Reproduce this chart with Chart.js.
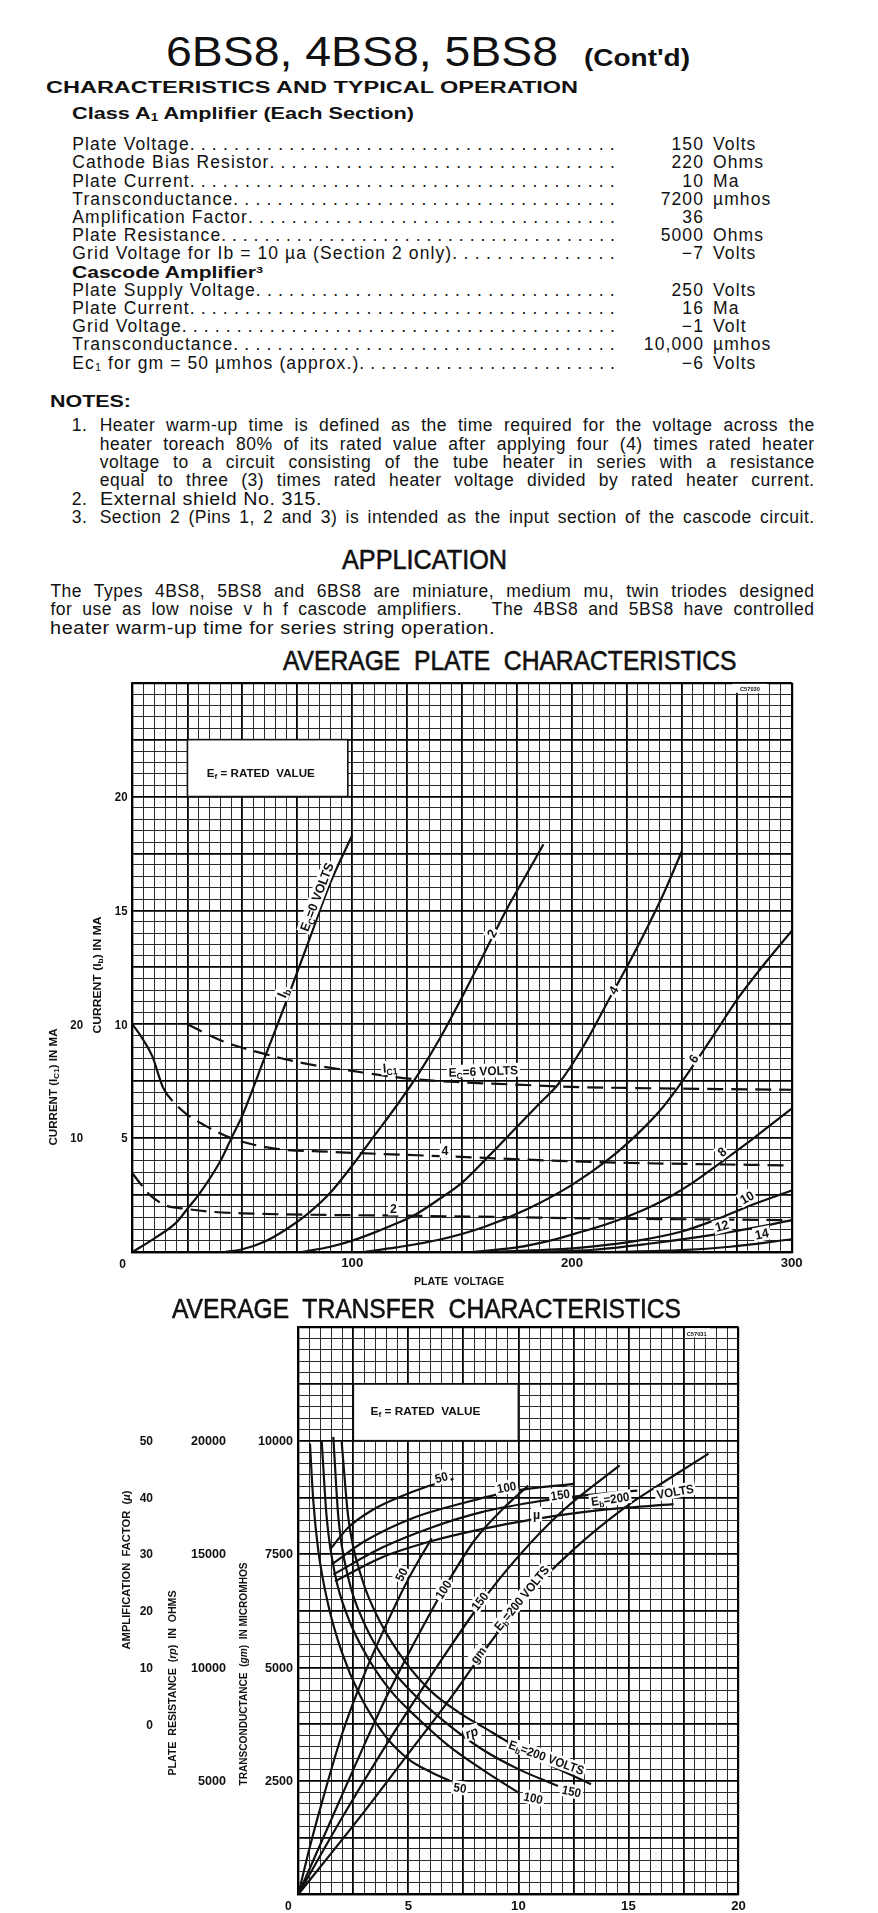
<!DOCTYPE html>
<html><head><meta charset="utf-8">
<script src="https://cdn.jsdelivr.net/npm/chart.js@4.4.1/dist/chart.umd.min.js"></script>
<style>
html,body{margin:0;padding:0;background:#fff;}
body{width:878px;height:1913px;position:relative;overflow:hidden;font-family:"Liberation Sans",Arial,sans-serif;color:#111;}
.t{position:absolute;white-space:nowrap;line-height:1;transform-origin:0 0;}
.t sub{font-size:0.62em;vertical-align:-0.18em;line-height:0;}
.t sup{font-size:0.6em;vertical-align:0.55em;line-height:0;}
.hd{-webkit-text-stroke:0.6px #111;}
canvas{position:absolute;left:0;}
</style></head><body>
<canvas id="plate" width="878" height="616" style="top:676px;width:878px;height:616px"></canvas>
<canvas id="transfer" width="878" height="591" style="top:1322px;width:878px;height:591px"></canvas>
<script>
// ---------- PLATE CHARACTERISTICS DATA (plate volts, plate mA) ----------
const ec0V=[0,10,20,25,30,40,45,50,60,70,80,90,100];
const ec0I=[0,0.6,1.3,1.9,2.5,4.0,5.0,6.0,8.5,11.0,13.6,16.2,18.3];
const ec2V=[42,50,60,70,80,90,100,110,120,130,140,150,160,170,180,187];
const ec2I=[0,0.12,0.45,1.0,1.7,2.6,3.8,5.1,6.4,7.8,9.4,11.2,13.1,15.0,16.7,17.9];
const ec4V=[77,90,100,110,120,128,140,150,162,175,185,194,205,218,226,234,242,250];
const ec4I=[0,0.23,0.5,0.85,1.25,1.6,2.35,3.05,4.2,5.5,6.5,7.4,9.0,11.3,12.7,14.2,15.8,17.6];
const ec6V=[105,120,140,160,180,200,217,230,240,248,256,265,276,288,300];
const ec6I=[0,0.2,0.55,1.1,1.9,2.95,4.1,5.2,6.2,7.2,8.3,9.6,11.2,12.7,14.1];
const ec8V=[155,175,190,203,215,223,235,245,255,268,280,290,300];
const ec8I=[0,0.2,0.5,0.85,1.2,1.47,1.95,2.45,3.05,3.95,4.8,5.55,6.3];
const ec10V=[160,190,210,230,250,265,280,300];
const ec10I=[0,0.1,0.25,0.5,0.9,1.4,2.0,2.7];
const ec12V=[185,210,234,264,285,300];
const ec12I=[0,0.1,0.35,0.75,1.1,1.4];
const ec14V=[215,250,272,300];
const ec14I=[0,0.08,0.23,0.56];
// grid current Ic1 (mA, left outer scale) for Ec = +2, +4, +6 volts
const ic2V=[0,4,8,15,24,35,50,90,120,211,300];
const ic2I=[6.9,5.9,5.0,4.1,3.8,3.55,3.4,3.25,3.2,2.95,2.8];
const ic4V=[0,5,9,14,20,24,35,45,64,90,143,211,300];
const ic4I=[20,18.6,17.2,14.4,12.9,12.2,10.9,10.0,9.1,8.8,8.4,7.9,7.6];
const ic6V=[25,40,60,80,100,127,150,175,200,250,300];
const ic6I=[20,18.6,17.4,16.5,15.9,15.2,14.9,14.7,14.5,14.35,14.25];
const plateXTicks=[100,200,300];
const plateYTicks=[5,10,15,20];
const plateY2Ticks=[10,20];

// ---------- TRANSFER CHARACTERISTICS DATA (plate mA) ----------
const gm50X=[0,0.5,1,2,3,4,5,6.06];
const gm50Y=[0,1000,1900,3550,4850,5950,6950,7850];
const gm100X=[0,1.5,3,4,5,6.6,8,9.3,10.45];
const gm100Y=[0,1650,3300,4350,5300,6720,7800,8500,9010];
const gm150X=[0,2,4,6,8.26,10,12,14.6];
const gm150Y=[0,1700,3300,4800,6400,7450,8450,9457];
const gm200X=[0,2.8,5,6.9,8.2,10.15,12.5,14.85,16.8,18.64];
const gm200Y=[0,1700,3100,4314,5200,6450,7600,8531,9150,9715];
const rp50X=[0.53,0.68,0.91,1.36,1.97,2.8,3.94,5.0,6.06,6.9];
const rp50Y=[19874,17360,15140,12770,10700,8775,6997,5963,5372,5000];
const rp100X=[1.06,1.29,1.67,2.27,3.18,4.24,5.45,6.82,8.33,10.0];
const rp100Y=[20024,16620,14100,12180,10400,8924,7740,6555,5520,4484];
const rp150X=[1.59,1.82,2.27,3.03,4.09,5.3,6.67,8.33,10.0,11.8];
const rp150Y=[20170,16620,13955,11880,10105,8773,7592,6407,5519,4778];
const rp200X=[1.97,2.27,2.88,3.79,4.85,6.06,7.27,8.79,10.6,13.3];
const rp200Y=[19950,16620,13955,11880,10256,8924,8036,7148,6109,4853];
const mu50X=[1.44,2.27,3.33,4.55,5.76,7.05];
const mu50Y=[30.8,34.7,37.7,40.0,41.8,43.3];
const mu100X=[1.52,3.03,5.3,7.58,9.85,12.5];
const mu100Y=[28.2,32.3,36.5,39.1,41.2,42.4];
const mu150X=[1.59,3.79,6.06,8.33,10.6,12.9,15.4];
const mu150Y=[26.4,31.1,34.7,37.4,39.1,40.3,41.2];
const mu200X=[1.67,3.79,6.06,8.33,10.8,13.6,17.05];
const mu200Y=[25.2,29.4,32.3,34.4,36.2,37.7,38.8];
const trXTicks=[5,10,15,20];
const gmTicks=[2500,5000,7500,10000];
const rpTicks=[5000,10000,15000,20000];
const muTicks=[0,10,20,30,40,50];

// ---------- PAGE TEXT ----------
const FONT='"Liberation Sans", Arial, sans-serif';
function placeText(html,x,base,fs,opt){
  opt=opt||{};
  const d=document.createElement('div');d.className='t'+(opt.cls?' '+opt.cls:'');
  d.style.left=x+'px';d.style.top=(base-0.8465*fs)+'px';d.style.fontSize=fs+'px';
  if(opt.bold)d.style.fontWeight='bold';
  if(opt.ls!=null)d.style.letterSpacing=opt.ls+'px';
  if(opt.right){d.style.left='auto';d.style.right=(878-x)+'px';d.style.textAlign='right';d.style.transformOrigin='100% 0';}
  d.innerHTML=html;document.body.appendChild(d);
  if(opt.w){
    const nat=d.getBoundingClientRect().width;
    const sp=(d.textContent.match(/[ \u00a0]/g)||[]).length;
    if(opt.just&&nat<opt.w&&sp){d.style.wordSpacing=((opt.w-nat)/sp)+'px';}
    else d.style.transform='scaleX('+(opt.w/nat)+')';
  }
  return d;
}
placeText('6BS8, 4BS8, 5BS8',166,66.7,43,{w:392});
placeText("(Cont'd)",584,66.7,23,{bold:1,w:106});
placeText('CHARACTERISTICS AND TYPICAL OPERATION',46,94,16,{bold:1,w:532});
placeText('Class A<sub>1</sub> Amplifier (Each Section)',71.7,119.3,16.5,{bold:1,w:342});

const specRows=[
 ['Plate Voltage','150','Volts'],
 ['Cathode Bias Resistor','220','Ohms'],
 ['Plate Current','10','Ma'],
 ['Transconductance','7200','µmhos'],
 ['Amplification Factor','36',''],
 ['Plate Resistance','5000','Ohms'],
 ['Grid Voltage for Ib = 10 µa (Section 2 only)','−7','Volts'],
 null,
 ['Plate Supply Voltage','250','Volts'],
 ['Plate Current','16','Ma'],
 ['Grid Voltage','−1','Volt'],
 ['Transconductance','10,000','µmhos'],
 ['Ec<sub>1</sub> for gm = 50 µmhos (approx.)','−6','Volts']
];
specRows.forEach((r,i)=>{
  const b=151+i*18.2;
  if(!r){placeText('Cascode Amplifier<sup>3</sup>',71.7,b,16.5,{bold:1,w:191});return;}
  const d=placeText(r[0],72.3,b,17.5,{ls:1.1});
  const end=72.3+d.getBoundingClientRect().width;
  const n=Math.max(1,Math.round((621-end)/10.95));const pitch=(621-end)/n;
  placeText('.'.repeat(n),end,b,17.5,{ls:pitch-4.865});
  placeText(r[1],704,b,17.5,{ls:1.1,right:1});
  if(r[2])placeText(r[2],713,b,17.5,{ls:1.1});
});

placeText('NOTES:',50.4,407.5,16,{bold:1,w:81});
const noteLines=[
 ['1.','Heater warm-up time is defined as the time required for the voltage across the',1],
 ['','heater toreach 80% of its rated value after applying four (4) times rated heater',1],
 ['','voltage to a circuit consisting of the tube heater in series with a resistance',1],
 ['','equal to three (3) times rated heater voltage divided by rated heater current.',1],
 ['2.','External shield No. 315.',0],
 ['3.','Section 2 (Pins 1, 2 and 3) is intended as the input section of the cascode circuit.',1]
];
noteLines.forEach((l,i)=>{
  const b=432+i*18.35;
  if(l[0])placeText(l[0],71.7,b,17.5,{ls:0.5});
  placeText(l[1],99.7,b,17.5,{ls:0.5,w:l[2]?715:222,just:l[2]});
});
placeText('APPLICATION',341.5,569.5,28,{w:165,cls:'hd'});
placeText('The Types 4BS8, 5BS8 and 6BS8 are miniature, medium mu, twin triodes designed',50.4,598,17.5,{ls:0.5,w:764,just:1});
placeText('for use as low noise v h f cascode amplifiers.&nbsp;&nbsp; The 4BS8 and 5BS8 have controlled',50.4,616.3,17.5,{ls:0.5,w:764,just:1});
placeText('heater warm-up time for series string operation.',50.4,634.6,17.5,{ls:0.5,w:445});
placeText('AVERAGE&nbsp; PLATE&nbsp; CHARACTERISTICS',282.8,671,28,{w:453.5,cls:'hd'});
placeText('AVERAGE&nbsp; TRANSFER&nbsp; CHARACTERISTICS',171.6,1318.5,28,{w:509,cls:'hd'});

// ---------- drawing helpers ----------
function drawRich(ctx,segs,cx,cy,o){
  o=o||{};const size=o.size||11;
  const parts=[];let w=0;
  for(const s of segs){const t=s[0],k=s[1]||0;const fs=k===1?size*0.7:size;
    const f=(k===2?'italic ':'')+(o.normal?'':'bold ')+fs+'px '+FONT;ctx.font=f;
    const m=ctx.measureText(t).width;parts.push({t,k,f,m});w+=m;}
  const sx=o.w?o.w/w:(o.sx||1);
  ctx.save();ctx.translate(cx,cy);ctx.rotate((o.angle||0)*Math.PI/180);ctx.scale(sx,1);
  let x0=o.align==='right'?-w:(o.align==='left'?0:-w/2);
  if(o.bg){ctx.fillStyle='#fff';ctx.fillRect(x0-2,-size*0.55,w+4,size*1.1);}
  ctx.fillStyle='#111';ctx.textAlign='left';ctx.textBaseline='alphabetic';
  let x=x0;for(const p of parts){ctx.font=p.f;ctx.fillText(p.t,x,size*0.36+(p.k===1?size*0.2:0));x+=p.m;}
  ctx.restore();
}
function mk(xs,ys){return xs.map((v,i)=>({x:v,y:ys[i]}));}
function solid(xs,ys,axis){return {data:mk(xs,ys),yAxisID:axis||'y',showLine:true,borderColor:'#111',borderWidth:2.2,pointRadius:0,cubicInterpolationMode:'monotone',fill:false};}
const DASH=[16,8];
function dashed(xs,ys,axis,solidUntil){const d=solid(xs,ys,axis);d.borderDash=DASH;
  if(solidUntil!=null)d.segment={borderDash:c=>c.p1.parsed.x<=solidUntil?[]:DASH};return d;}
function gridOpts(majorEvery,min,max){
  const near=(a,b)=>Math.abs(a-b)<1e-6;
  return {drawTicks:false,
    color:c=>{const v=c.tick.value;const r=v/majorEvery;return near(r,Math.round(r))?'#000':'#2b2b2b';},
    lineWidth:c=>{const v=c.tick.value;if(near(v,min)||near(v,max))return 2.2;const r=v/majorEvery;return near(r,Math.round(r))?1.8:1.0;}};
}
function boxAt(ctx,x,y,x0,x1,y0,y1){
  const L=x.getPixelForValue(x0),R=x.getPixelForValue(x1),T=y.getPixelForValue(y1),B=y.getPixelForValue(y0);
  ctx.save();ctx.fillStyle='#fff';ctx.fillRect(L,T,R-L,B-T);ctx.strokeStyle='#111';ctx.lineWidth=1.6;ctx.strokeRect(L,T,R-L,B-T);ctx.restore();
}

// ---------- PLATE CHART ----------
const PT=676;
const plateLabels=[
 {s:[['E'],['C',1],['=0 VOLTS']],x:83.8,y:15.6,a:-69,size:13,bg:1},
 {s:[['I'],['b',1]],x:68.3,y:11.4,a:-68,size:14,bg:1},
 {s:[['2']],x:163.5,y:14.0,a:-62,size:13,bg:1},
 {s:[['4']],x:218.8,y:11.5,a:-58,size:13,bg:1},
 {s:[['6']],x:255.3,y:8.5,a:-55,size:13,bg:1},
 {s:[['8']],x:268.2,y:4.4,a:-40,size:13,bg:1},
 {s:[['10']],x:279.6,y:2.4,a:-30,size:13,bg:1},
 {s:[['12']],x:268.2,y:1.15,a:-15,size:13,bg:1},
 {s:[['14']],x:286.4,y:0.8,a:-12,size:13,bg:1},
 {s:[['I'],['C1',1]],x:117.2,y:8.1,a:-5,size:13,bg:1},
 {s:[['E'],['C',1],['=6 VOLTS']],x:159.7,y:7.95,a:-2,size:12.5,bg:1},
 {s:[['4']],x:142.2,y:4.45,a:0,size:13,bg:1},
 {s:[['2']],x:118.7,y:1.92,a:0,size:13,bg:1}
];
const platePlugin={id:'plateDeco',
 beforeDatasetsDraw(chart){const {ctx,scales:{x,y}}=chart;
   boxAt(ctx,x,y,25,98,20,22.5);
   drawRich(ctx,[['E'],['f',1],[' = RATED  VALUE']],x.getPixelForValue(58.4),y.getPixelForValue(21.05),{size:11,w:108});
   ctx.save();ctx.fillStyle='#fff';ctx.fillRect(x.getPixelForValue(273),y.getPixelForValue(24.95),x.getPixelForValue(289)-x.getPixelForValue(273),9);ctx.restore();
   drawRich(ctx,[['C57030']],x.getPixelForValue(281),y.getPixelForValue(24.75),{size:6,w:20});
 },
 afterDatasetsDraw(chart){const {ctx,scales:{x,y,y2}}=chart;
   for(const l of plateLabels)drawRich(ctx,l.s,x.getPixelForValue(l.x),y.getPixelForValue(l.y),{size:l.size,angle:l.a,bg:l.bg,sx:0.95});
   const L=x.getPixelForValue(0);
   for(const v of plateXTicks)drawRich(ctx,[[String(v)]],x.getPixelForValue(v),1263-PT,{size:12,sx:1.1});
   drawRich(ctx,[['0']],L-10,1264-PT,{size:12});
   for(const v of plateYTicks)drawRich(ctx,[[String(v)]],L-5,y.getPixelForValue(v),{size:12,align:'right',sx:0.95});
   for(const v of plateY2Ticks)drawRich(ctx,[[String(v)]],76.7,y2.getPixelForValue(v),{size:12,sx:0.95});
   drawRich(ctx,[['CURRENT (I'],['b',1],[') IN MA']],97,975-PT,{size:10,angle:-90,w:117});
   drawRich(ctx,[['CURRENT (I'],['C1',1],[') IN MA']],53,1087-PT,{size:10,angle:-90,w:117});
   drawRich(ctx,[['PLATE  VOLTAGE']],459,1281-PT,{size:10,w:90});
 }};
new Chart(document.getElementById('plate'),{
 type:'scatter',
 data:{datasets:[
  solid(ec0V,ec0I),solid(ec2V,ec2I),solid(ec4V,ec4I),solid(ec6V,ec6I),solid(ec8V,ec8I),
  solid(ec10V,ec10I),solid(ec12V,ec12I),solid(ec14V,ec14I),
  dashed(ic6V,ic6I,'y2'),dashed(ic4V,ic4I,'y2',14.5),dashed(ic2V,ic2I,'y2')
 ]},
 options:{responsive:false,animation:false,devicePixelRatio:1,
  layout:{padding:{left:132.5,right:86.3,top:6.7,bottom:40}},
  plugins:{legend:{display:false},tooltip:{enabled:false}},
  scales:{
   x:{type:'linear',position:'bottom',min:0,max:300,ticks:{display:false,stepSize:5},grid:gridOpts(25,0,300),border:{display:true,width:2.2,color:'#000'}},
   y:{type:'linear',position:'left',min:0,max:25,ticks:{display:false,stepSize:0.5},grid:gridOpts(2.5,0,25),border:{display:true,width:2.2,color:'#000'}},
   y2:{type:'linear',display:false,min:0,max:50}
  }},
 plugins:[platePlugin]
});

// ---------- TRANSFER CHART ----------
const TT=1322;
const trLabels=[
 {s:[['50']],x:4.68,y:7051,a:-62},
 {s:[['100']],x:6.58,y:6718,a:-57},
 {s:[['150']],x:8.24,y:6460,a:-52},
 {s:[['gm']],x:8.17,y:5275,a:-51},
 {s:[['E'],['b',1],['=200 VOLTS']],x:10.14,y:6533,a:-51},
 {s:[['r',2],['p',2]],x:7.87,y:3573,a:-20,size:13.5},
 {s:[['E'],['b',1],['=200 VOLTS']],x:11.28,y:3019,a:20},
 {s:[['50']],x:7.35,y:2348,a:8},
 {s:[['100']],x:10.68,y:2126,a:12},
 {s:[['150']],x:12.42,y:2274,a:12},
 {s:[['50']],x:6.5,y:9197,a:-15},
 {s:[['100']],x:9.46,y:8975,a:-10},
 {s:[['150']],x:11.9,y:8812,a:-8},
 {s:[['µ']],x:10.83,y:8383,a:0,size:13.5},
 {s:[['E'],['b',1],['=200']],x:14.17,y:8716,a:-8},
 {s:[['VOLTS']],x:17.12,y:8882,a:-10}
];
const trPlugin={id:'trDeco',
 beforeDatasetsDraw(chart){const {ctx,scales:{x,y}}=chart;
   boxAt(ctx,x,y,2.5,10,10000,11250);
   drawRich(ctx,[['E'],['f',1],[' = RATED  VALUE']],x.getPixelForValue(5.78),y.getPixelForValue(10650),{size:11,w:110});
   ctx.save();ctx.fillStyle='#fff';ctx.fillRect(x.getPixelForValue(17.6),y.getPixelForValue(12480),x.getPixelForValue(18.7)-x.getPixelForValue(17.6),9);ctx.restore();
   drawRich(ctx,[['C57031']],x.getPixelForValue(18.1),y.getPixelForValue(12350),{size:6,w:20});
 },
 afterDatasetsDraw(chart){const {ctx,scales:{x,y,yrp,ymu}}=chart;
   for(const l of trLabels)drawRich(ctx,l.s,x.getPixelForValue(l.x),y.getPixelForValue(l.y),{size:l.size||12.5,angle:l.a,bg:1,sx:0.92});
   const L=x.getPixelForValue(0);
   for(const v of trXTicks)drawRich(ctx,[[String(v)]],x.getPixelForValue(v),1906-TT,{size:12,sx:1.1});
   drawRich(ctx,[['0']],L-10,1906-TT,{size:12});
   for(const v of gmTicks)drawRich(ctx,[[String(v)]],293,y.getPixelForValue(v),{size:12,align:'right',sx:1.05});
   for(const v of rpTicks)drawRich(ctx,[[String(v)]],226,yrp.getPixelForValue(v),{size:12,align:'right',sx:1.05});
   for(const v of muTicks)drawRich(ctx,[[String(v)]],153,ymu.getPixelForValue(v),{size:12,align:'right',sx:1.0});
   drawRich(ctx,[['AMPLIFICATION  FACTOR  ('],['µ',2],[')']],126,1570-TT,{size:10,angle:-90,w:159});
   drawRich(ctx,[['PLATE  RESISTANCE  ('],['rp',2],[')  IN  OHMS']],172.5,1683-TT,{size:10,angle:-90,w:185});
   drawRich(ctx,[['TRANSCONDUCTANCE  ('],['gm',2],[')  IN MICROMHOS']],243.3,1674-TT,{size:10,angle:-90,w:223});
 }};
new Chart(document.getElementById('transfer'),{
 type:'scatter',
 data:{datasets:[
  solid(gm50X,gm50Y),solid(gm100X,gm100Y),solid(gm150X,gm150Y),solid(gm200X,gm200Y),
  solid(rp50X,rp50Y,'yrp'),solid(rp100X,rp100Y,'yrp'),solid(rp150X,rp150Y,'yrp'),solid(rp200X,rp200Y,'yrp'),
  solid(mu50X,mu50Y,'ymu'),solid(mu100X,mu100Y,'ymu'),solid(mu150X,mu150Y,'ymu'),solid(mu200X,mu200Y,'ymu')
 ]},
 options:{responsive:false,animation:false,devicePixelRatio:1,
  layout:{padding:{left:298.3,right:139.5,top:5.3,bottom:18.7}},
  plugins:{legend:{display:false},tooltip:{enabled:false}},
  scales:{
   x:{type:'linear',position:'bottom',min:0,max:20,ticks:{display:false,stepSize:0.5},grid:gridOpts(2.5,0,20),border:{display:true,width:2.2,color:'#000'}},
   y:{type:'linear',position:'left',min:0,max:12500,ticks:{display:false,stepSize:250},grid:gridOpts(1250,0,12500),border:{display:true,width:2.2,color:'#000'}},
   yrp:{type:'linear',display:false,min:0,max:25000},
   ymu:{type:'linear',display:false,min:-30,max:70}
  }},
 plugins:[trPlugin]
});
</script>
</body></html>
